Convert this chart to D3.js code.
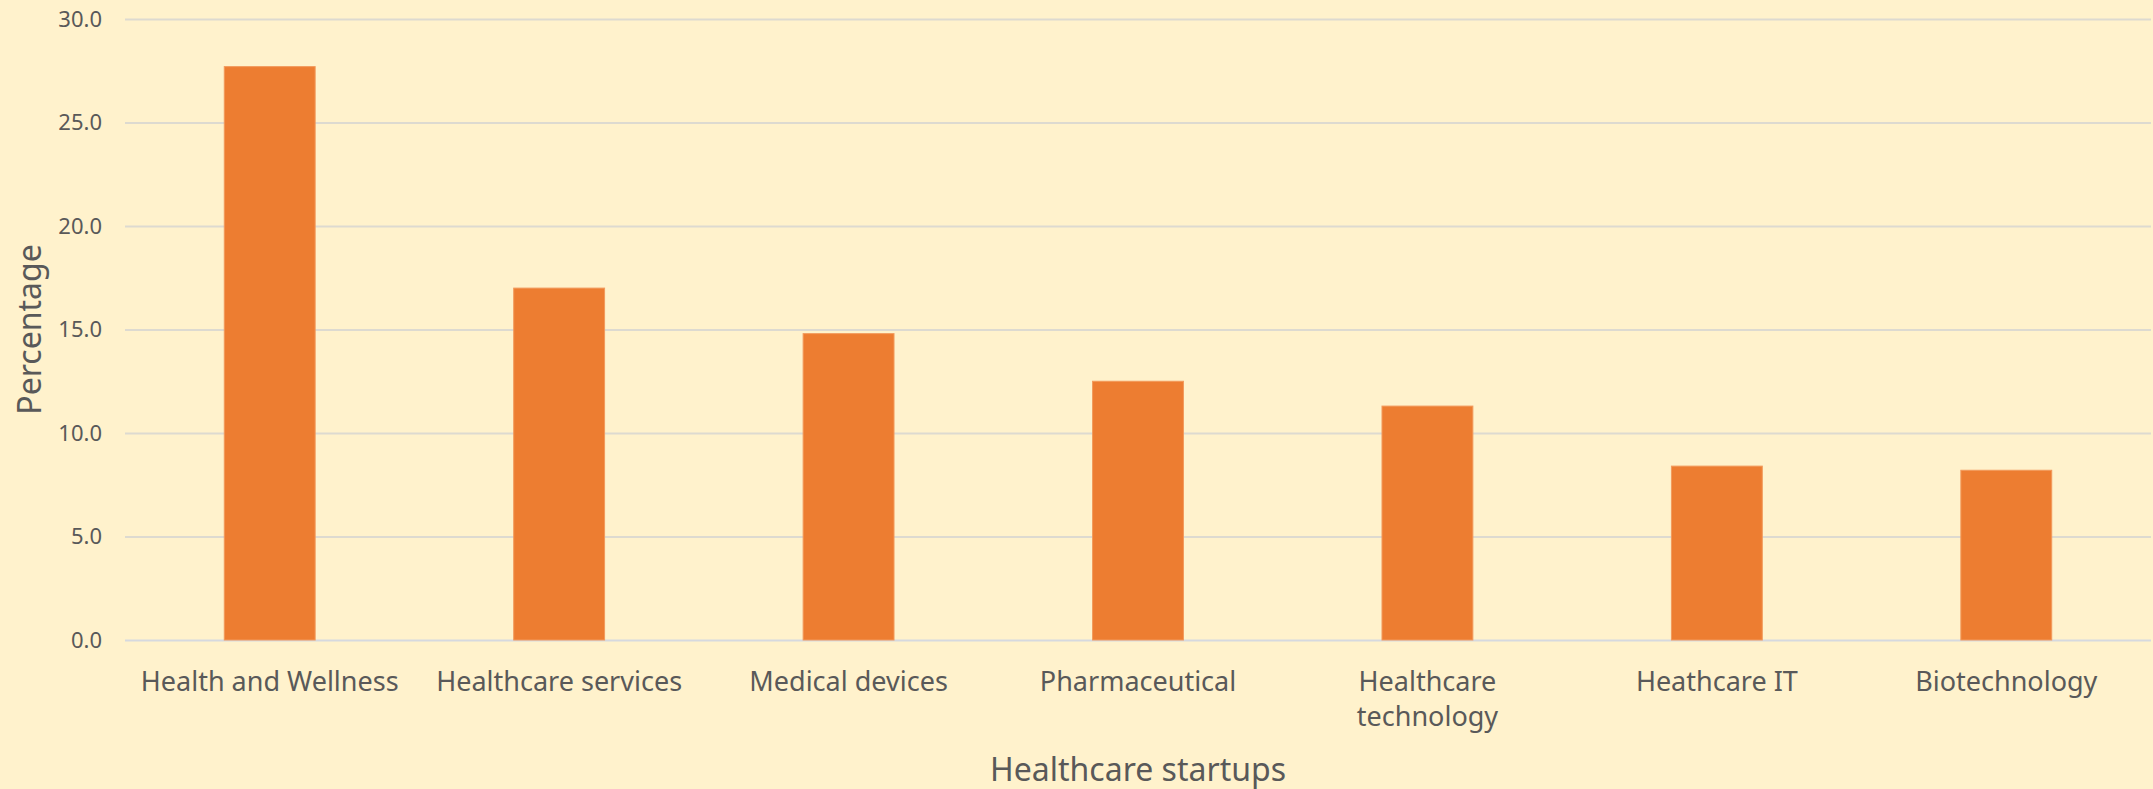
<!DOCTYPE html>
<html>
<head>
<meta charset="utf-8">
<script src="https://cdn.jsdelivr.net/npm/d3@7"></script>
<style>
  html, body { margin: 0; padding: 0; background: #FFF2CC; }
  svg { display: block; }
</style>
</head>
<body>
<div id="canvas"></div>
<script>
// Categories along the x axis.
const categories = ["Health and Wellness", "Healthcare services", "Medical devices",
    "Pharmaceutical", "Healthcare technology", "Heathcare IT", "Biotechnology"];
// Share of startups, in percent.
const values = [27.7, 17.0, 14.8, 12.5, 11.3, 8.4, 8.2];
// Y axis ticks.
const yTicks = [0, 5, 10, 15, 20, 25, 30];

// Size of the drawing.
const w = 2153, h = 789;
const margin = {top: 19, right: 2, bottom: 149, left: 125};

const textColor = "#595959";
const fontFamily = "'Noto Sans', 'Open Sans', sans-serif";

const svg = d3.select("#canvas")
    .append("svg")
    .attr("width", w)
    .attr("height", h)
    .style("background", "#FFF2CC");

// Scales.
const xScale = d3.scaleBand()
    .domain(categories)
    .range([margin.left, w - margin.right])
    .paddingInner(0.686)
    .paddingOuter(0.343);

const yScale = d3.scaleLinear()
    .domain([0, 30])
    .range([h - margin.bottom, margin.top]);

// Gridlines and y tick labels.
const yAxis = d3.axisLeft(yScale)
    .tickValues(yTicks)
    .tickFormat(d3.format(".1f"))
    .tickSize(-(w - margin.left - margin.right))
    .tickPadding(23);

const yG = svg.append("g")
    .attr("transform", `translate(${margin.left},0)`)
    .call(yAxis);

yG.select(".domain").remove();
yG.selectAll(".tick line")
    .attr("stroke", d => d === 0 ? "#D6D9DF" : "#DDDAD0")
    .attr("stroke-width", 2);
yG.selectAll(".tick text")
    .attr("fill", textColor)
    .attr("font-family", fontFamily)
    .attr("font-size", 22)
    .attr("dy", "0.34em");

// Bars.
svg.append("g")
    .selectAll("rect")
    .data(values)
    .join("rect")
    .attr("x", (d, i) => xScale(categories[i]))
    .attr("y", d => yScale(d))
    .attr("width", xScale.bandwidth())
    .attr("height", d => yScale(0) - yScale(d))
    .attr("fill", "#ED7D31")
    .attr("stroke", "#F29A5C")
    .attr("stroke-width", 1);

// Category labels, wrapped to fit the slot like Excel does.
const xAxis = d3.axisBottom(xScale).tickSize(0).tickPadding(0);
const xG = svg.append("g")
    .attr("transform", `translate(0,${yScale(0)})`)
    .call(xAxis);
xG.select(".domain").remove();
xG.selectAll(".tick text")
    .attr("fill", textColor)
    .attr("font-family", fontFamily)
    .attr("font-size", 27)
    .attr("y", 51)
    .attr("dy", 0)
    .call(wrap, xScale.step() * 0.9);

function wrap(text, width) {
    text.each(function() {
        const t = d3.select(this);
        const words = t.text().split(/\s+/);
        const y = t.attr("y");
        t.text(null);
        let line = [];
        let lineNo = 0;
        let tspan = t.append("tspan").attr("x", 0).attr("y", y);
        words.forEach(word => {
            line.push(word);
            tspan.text(line.join(" "));
            if (tspan.node().getComputedTextLength() > width && line.length > 1) {
                line.pop();
                tspan.text(line.join(" "));
                line = [word];
                lineNo++;
                tspan = t.append("tspan")
                    .attr("x", 0)
                    .attr("y", +y + lineNo * 35)
                    .text(word);
            }
        });
    });
}

// Axis titles.
svg.append("text")
    .attr("x", (margin.left + w - margin.right) / 2)
    .attr("y", 781)
    .attr("text-anchor", "middle")
    .attr("fill", textColor)
    .attr("font-family", fontFamily)
    .attr("font-size", 32)
    .text("Healthcare startups");

svg.append("text")
    .attr("transform", `translate(41,${(yScale(0) + yScale(30)) / 2}) rotate(-90)`)
    .attr("text-anchor", "middle")
    .attr("fill", textColor)
    .attr("font-family", fontFamily)
    .attr("font-size", 32)
    .text("Percentage");
</script>
</body>
</html>
